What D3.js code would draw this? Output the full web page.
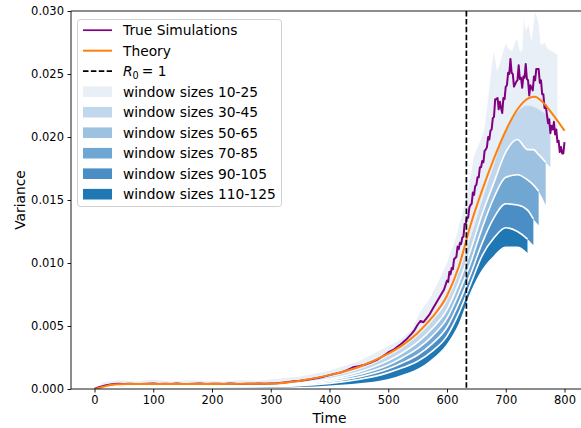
<!DOCTYPE html>
<html><head><meta charset="utf-8">
<script src="https://cdn.jsdelivr.net/npm/d3@7"></script>
<style>body{margin:0;background:#fff}svg{font-family:"DejaVu Sans",sans-serif;display:block}</style>
</head><body><svg id="c" width="581" height="428"></svg>
<script>
// ---------- data ----------
const xTicks = [0, 100, 200, 300, 400, 500, 600, 700, 800];
const yTicks = [0, 0.005, 0.010, 0.015, 0.020, 0.025, 0.030];
const r0Time = 633;

const bandLabels = ["window sizes 10-25","window sizes 30-45","window sizes 50-65","window sizes 70-85","window sizes 90-105","window sizes 110-125"];
const bandColors = ["#e8eff6","#c1d8ec","#9dc2e1","#70a7d2","#4b8dc5","#1f77b4"];
const bandStart = [12, 22, 32, 42, 52, 62];
const bandEnd   = [788, 776, 768, 756, 747, 737];

// top edge of the lightest band (noisy)
const edge0T = [12,40,70,100,130,160,190,220,250,280,300,350,400,450,500,520,540,555,570,585,600,615,635,646,655,663,670,676,680,685,690,695,700,705,711,715,719,724,728,731,734,739,744,747,750,753,756,759,762,766,771,779,785,788];
const edge0V = [0.0005,0.0007,0.0006,0.00075,0.0006,0.0007,0.00065,0.0006,0.0007,0.00065,0.00075,0.0010,0.00145,0.0022,0.0034,0.0039,0.0047,0.0062,0.0071,0.0085,0.0100,0.0120,0.0155,0.0185,0.0195,0.0205,0.0230,0.0255,0.0268,0.0252,0.0258,0.0267,0.0274,0.0270,0.0268,0.0274,0.0278,0.0268,0.0268,0.0294,0.0284,0.0289,0.0275,0.0288,0.0299,0.0295,0.0289,0.0274,0.0273,0.0275,0.0270,0.0268,0.0266,0.0265];

// boundaries between bands on a common time grid
const gridT = [12,22,32,42,52,62,100,200,300,350,400,450,500,525,550,575,600,620,640,660,680,700,720,737,747,756,768,776,788];
const edge1 = [0.00025,0.0003,0.00035,0.00035,0.00035,0.00035,0.00035,0.00035,0.00038,0.00055,0.00095,0.00155,0.0026,0.0033,0.0042,0.0054,0.0070,0.0092,0.0120,0.0150,0.0178,0.0206,0.0220,0.0225,0.0224,0.0222,0.0218,0.0215,0.0205];
const edge2 = [0.0002,0.00025,0.0003,0.0003,0.0003,0.0003,0.0003,0.0003,0.00033,0.00048,0.00082,0.00135,0.00225,0.0029,0.0037,0.0048,0.0063,0.0084,0.0110,0.0139,0.0164,0.0188,0.0198,0.0190,0.0190,0.0186,0.0180,0.0176,null];
const edge3 = [0.00015,0.0002,0.00022,0.00025,0.00025,0.00025,0.00025,0.00025,0.00028,0.0004,0.0007,0.00115,0.0019,0.0025,0.0032,0.0042,0.0056,0.0076,0.0100,0.0128,0.0152,0.0168,0.0170,0.0166,0.0162,0.0157,0.0146,null,null];
const edge4 = [0.0001,0.00015,0.00018,0.0002,0.0002,0.0002,0.0002,0.0002,0.00023,0.00033,0.00058,0.00095,0.0016,0.0021,0.0027,0.0036,0.0049,0.0068,0.0091,0.0116,0.0136,0.0147,0.0146,0.0142,0.0135,0.0130,null,null,null];
const edge5 = [0.00005,0.0001,0.00012,0.00014,0.00015,0.00015,0.00015,0.00015,0.00018,0.00026,0.00045,0.00075,0.0013,0.0017,0.0022,0.0030,0.0042,0.0060,0.0083,0.0106,0.0120,0.0128,0.0125,0.0119,0.0114,null,null,null,null];
const edge6 = [0,0.00003,0.00005,0.00006,0.00007,0.00008,0.00008,0.00008,0.0001,0.00015,0.00028,0.00045,0.0008,0.00115,0.0016,0.0024,0.0036,0.0052,0.0077,0.0095,0.0106,0.0113,0.0113,0.0108,null,null,null,null,null];

// theory curve
const theoryT = [0,10,20,30,40,60,100,200,300,350,400,450,500,525,550,575,600,620,640,660,680,700,720,740,750,760,780,800];
const theoryV = [0,0.00012,0.00025,0.00034,0.00038,0.0004,0.0004,0.0004,0.00042,0.00065,0.0011,0.00175,0.0028,0.0035,0.00445,0.0057,0.0074,0.0097,0.0130,0.0158,0.0183,0.0205,0.0222,0.0231,0.0232,0.0229,0.0218,0.0205];

// true simulations
const simEarlyT = [0,5,10,20,30,40,50,60,70,80,90,100,110,120,130,140,150,160,170,180,190,200,210,220,230,240,250,260,270,280,290,300,310,320,330,340,350,360,370,380,390,400,410,420,430,440,450,460,470,480,490,500,510,520,530,540,545,550,555,560,565,570,575,580,585,590,595];
const simEarlyV = [0,0.0001,0.00018,0.0003,0.00038,0.00042,0.0004,0.00041,0.0004,0.00039,0.00041,0.00043,0.0004,0.00041,0.0004,0.00044,0.0004,0.00039,0.00041,0.00043,0.0004,0.00041,0.00042,0.0004,0.00044,0.00041,0.0004,0.00042,0.00041,0.00043,0.00042,0.00044,0.00046,0.0005,0.00055,0.00062,0.00066,0.00072,0.0008,0.00088,0.00098,0.0011,0.00122,0.00132,0.0015,0.00172,0.0018,0.00192,0.0021,0.0023,0.00258,0.0029,0.00315,0.0035,0.0039,0.0044,0.0047,0.0051,0.0054,0.0053,0.0056,0.0059,0.0063,0.0067,0.0071,0.0075,0.0079];
const simLateV = [
0.0086,0.0085,0.0093,0.0091,0.0096,0.0095,0.0103,0.0104,0.0105,0.0113,
0.0111,0.0116,0.0115,0.0120,0.0121,0.0131,0.0131,0.0136,0.0136,0.0144,
0.0146,0.0147,0.0156,0.0154,0.0161,0.0162,0.0168,0.0168,0.0176,0.0176,
0.0181,0.0180,0.0189,0.0190,0.0192,0.0200,0.0198,0.0205,0.0206,0.0215,
0.0216,0.0230,0.0230,0.0231,0.0222,0.0228,0.0223,0.0219,0.0231,0.0230,
0.0240,0.0241,0.0251,0.0250,0.0262,0.0251,0.0250,0.0240,0.0242,0.0244,
0.0245,0.0257,0.0246,0.0247,0.0239,0.0248,0.0247,0.0258,0.0246,0.0245,
0.0233,0.0241,0.0239,0.0237,0.0248,0.0245,0.0254,0.0254,0.0254,0.0243,
0.0245,0.0234,0.0234,0.0223,0.0225,0.0218,0.0211,0.0214,0.0203,0.0209,
0.0206,0.0212,0.0202,0.0206,0.0196,0.0197,0.0188,0.0192,0.0187,0.0187,
0.0196];
const simLateT = d3.range(600, 801, 2);

// ---------- layout ----------
const svg = d3.select("#c");
const x = d3.scaleLinear().domain([-40, 840]).range([71, 588]);
const y = d3.scaleLinear().domain([0, 0.030]).range([389, 11]);

svg.append("defs").append("clipPath").attr("id","clip")
  .append("rect").attr("x",71).attr("y",11).attr("width",517).attr("height",378);
const plot = svg.append("g").attr("clip-path","url(#clip)");

const edges = [edge1, edge2, edge3, edge4, edge5, edge6];
const lin = d3.line().x(d => x(d[0])).y(d => y(d[1]));
const smooth = d3.line().x(d => x(d[0])).y(d => y(d[1])).curve(d3.curveMonotoneX);

function gridPts(arr, k) {
  return gridT.map((t, i) => [t, arr[i]])
    .filter(p => p[1] != null && p[0] >= bandStart[k] && p[0] <= bandEnd[k]);
}

for (let k = 0; k < 6; k++) {
  const lower = gridPts(edges[k], k);
  let upper;
  if (k === 0) upper = edge0T.map((t, i) => [t, edge0V[i]]);
  else upper = gridPts(edges[k - 1], k);
  if (k === 0) {
    const pts = upper.concat(lower.slice().reverse());
    plot.append("path").attr("d", lin(pts) + "Z").attr("fill", bandColors[k]);
  } else {
    const area = d3.area().x(d => x(d[0])).y1(d => y(d[1])).y0((d, i) => y(lower[i][1]))
      .curve(d3.curveMonotoneX);
    plot.append("path").datum(upper).attr("d", area).attr("fill", bandColors[k]);
    if (k > 1) {
      plot.append("path").datum(upper).attr("d", smooth).attr("fill", "none")
        .attr("stroke", "#fff").attr("stroke-width", 1.6);
    }
  }
}

const simPts = simEarlyT.map((t, i) => [t, simEarlyV[i]])
  .concat(simLateT.map((t, i) => [t, simLateV[i]]));
plot.append("path").attr("d", lin(simPts)).attr("fill","none")
  .attr("stroke","#800080").attr("stroke-width",2).attr("stroke-linejoin","round");

plot.append("path").attr("d", smooth(theoryT.map((t, i) => [t, theoryV[i]])))
  .attr("fill","none").attr("stroke","#ff7f0e").attr("stroke-width",2);

plot.append("line").attr("x1", x(r0Time)).attr("x2", x(r0Time)).attr("y1", 11).attr("y2", 389)
  .attr("stroke","#000").attr("stroke-width",1.7).attr("stroke-dasharray","5.5,2.4");

// ---------- axes ----------
const fmt = d3.format(".3f");
const xAxis = svg.append("g").attr("transform","translate(0,389)")
  .call(d3.axisBottom(x).tickValues(xTicks).tickSize(3.5).tickPadding(3.5).tickFormat(d3.format("d")));
const yAxis = svg.append("g").attr("transform","translate(71,0)")
  .call(d3.axisLeft(y).tickValues(yTicks).tickSize(3.5).tickPadding(3.5).tickFormat(fmt));
[xAxis, yAxis].forEach(a => {
  a.select(".domain").remove();
  a.selectAll("text").attr("font-family","DejaVu Sans").attr("font-size",11.5).attr("fill","#000");
  a.selectAll("line").attr("stroke","#000").attr("stroke-width",0.9);
});

// spines
svg.append("line").attr("x1",71).attr("x2",71).attr("y1",11).attr("y2",389).attr("stroke","#000").attr("stroke-width",0.9);
svg.append("line").attr("x1",71).attr("x2",588).attr("y1",389).attr("y2",389).attr("stroke","#000").attr("stroke-width",0.9);
svg.append("line").attr("x1",71).attr("x2",588).attr("y1",11).attr("y2",11).attr("stroke","#000").attr("stroke-width",0.9);

svg.append("text").attr("x",329.5).attr("y",423).attr("text-anchor","middle")
  .attr("font-size",13.8).text("Time");
svg.append("text").attr("transform","translate(25,200) rotate(-90)").attr("text-anchor","middle")
  .attr("font-size",13.8).text("Variance");

// ---------- legend ----------
const lg = svg.append("g");
lg.append("rect").attr("x",77.5).attr("y",19.5).attr("width",204).attr("height",187).attr("rx",3)
  .attr("fill","#fff").attr("fill-opacity",0.8).attr("stroke","#d0d0d0").attr("stroke-width",1);
const rowY = i => 30.2 + i * 20.5;
const textX = 123;
lg.append("line").attr("x1",83).attr("x2",112).attr("y1",rowY(0)).attr("y2",rowY(0)).attr("stroke","#800080").attr("stroke-width",1.7);
lg.append("line").attr("x1",83).attr("x2",112).attr("y1",rowY(1)).attr("y2",rowY(1)).attr("stroke","#ff7f0e").attr("stroke-width",2);
lg.append("line").attr("x1",83).attr("x2",112).attr("y1",rowY(2)).attr("y2",rowY(2)).attr("stroke","#000").attr("stroke-width",1.7).attr("stroke-dasharray","5.5,2.4");
lg.append("text").attr("x",textX).attr("y",rowY(0)+5).attr("font-size",13.8).text("True Simulations");
lg.append("text").attr("x",textX).attr("y",rowY(1)+5).attr("font-size",13.8).text("Theory");
const r0t = lg.append("text").attr("x",textX).attr("y",rowY(2)+5).attr("font-size",13.8);
r0t.append("tspan").attr("font-style","italic").text("R");
r0t.append("tspan").attr("font-size",9.7).attr("dy",3).text("0");
r0t.append("tspan").attr("dy",-3).attr("dx",3).text("= 1");
bandLabels.forEach((lab, k) => {
  const yy = rowY(3 + k);
  lg.append("rect").attr("x",83).attr("y",yy-5.3).attr("width",29).attr("height",10.6).attr("fill",bandColors[k]);
  lg.append("text").attr("x",textX).attr("y",yy+5).attr("font-size",13.8).text(lab);
});
</script></body></html>
